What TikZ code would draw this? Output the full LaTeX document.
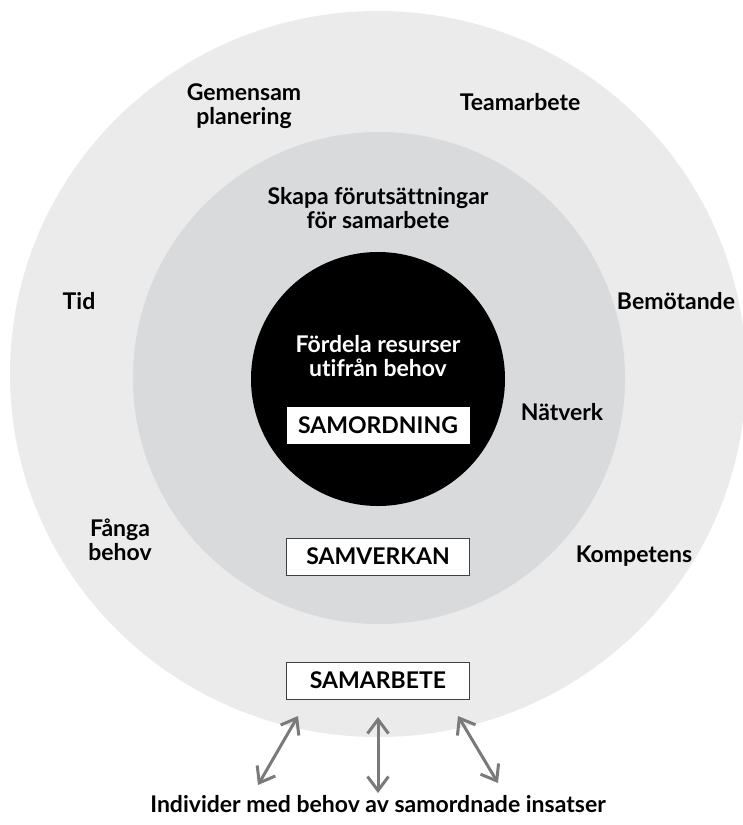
\documentclass[tikz,border=0pt]{standalone}
\usepackage{fontspec}
\setmainfont{Lato}[Ligatures={NoCommon,NoRequired}]
\usetikzlibrary{arrows.meta}
\definecolor{ringyttre}{HTML}{EBEBEB}
\definecolor{ringinre}{HTML}{D9DADC}
\definecolor{pilgra}{HTML}{7A7A7A}
\tikzset{
  etikett/.style={font=\fontsize{23}{24}\selectfont\bfseries, align=center, inner sep=0pt},
  ruta/.style={etikett, draw=black!75, line width=0.8pt, fill=white, minimum width=183pt,
    minimum height=37pt, text height=16.5pt, text depth=0pt},
  pil/.style={pilgra, line width=3pt, {Straight Barb[length=14pt,width=21pt]}-{Straight Barb[length=14pt,width=21pt]}}
}
\begin{document}
\begin{tikzpicture}[x=1pt,y=-1pt]
            \useasboundingbox (0,0) rectangle (742,825);
            \fill[white] (0,0) rectangle (742,825);
            % ringarna
            \fill[ringyttre] (378,374) ellipse [x radius=368pt, y radius=363pt];
            \fill[ringinre] (379,378) circle [radius=246pt];
            \fill[black] (378,379) circle [radius=127pt];
            % yttre ringen
            \node[etikett] (gemensam) at (244,106) {Gemensam\\planering};
            \node[etikett,anchor=base] (team) at (520,110) {Teamarbete};
            \node[etikett,anchor=base] (tid) at (79,309) {Tid};
            \node[etikett,anchor=base] (bemot) at (676,309) {Bemötande};
            \node[etikett] (fanga) at (120,540) {Fånga\\behov};
            \node[etikett,anchor=base] (komp) at (634,562) {Kompetens};
            \node[ruta] (samarbete) at (378,680.5) {SAMARBETE};
            % inre ringen
            \node[etikett] (skapa) at (378,208.5) {Skapa förutsättningar\\för samarbete};
            \node[etikett,anchor=base] (natverk) at (562,420) {Nätverk};
            \node[ruta] (samverkan) at (378,556.5) {SAMVERKAN};
            % mitten
            \node[etikett,text=white] (fordela) at (378,356.5) {Fördela resurser\\utifrån behov};
            \node[ruta,draw=none] (samordning) at (378,425) {SAMORDNING};
            % individerna
            \node[etikett,anchor=base] (individer) at (378,812) {Individer med behov av samordnade insatser};
            \coordinate (t1) at (298,716);
            \coordinate (t2) at (378,717);
            \coordinate (t3) at (458,716);
            \coordinate (b1) at (258,785);
            \coordinate (b2) at (378,793);
            \coordinate (b3) at (498,783);
            \draw[pil] (t1)--(b1);
            \draw[pil] (t2)--(b2);
            \draw[pil] (t3)--(b3);
\end{tikzpicture}
\end{document}
